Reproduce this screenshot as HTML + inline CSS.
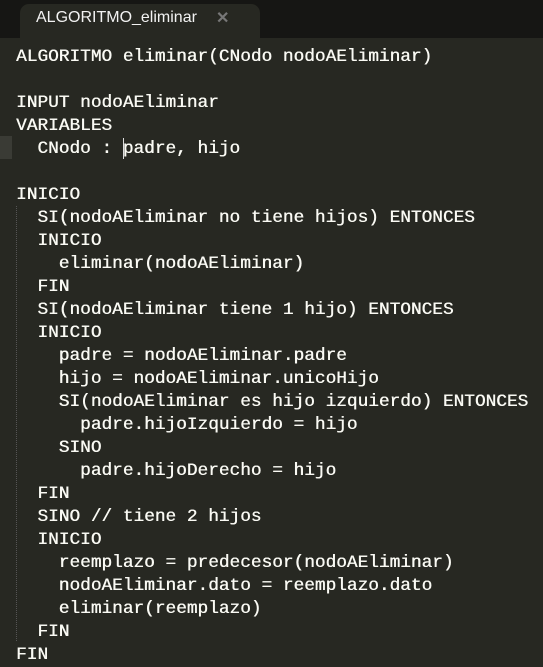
<!DOCTYPE html>
<html><head><meta charset="utf-8"><style>
html,body{margin:0;padding:0;width:543px;height:667px;overflow:hidden;background:#272822;}
.bar{position:absolute;left:0;top:0;width:543px;height:38px;background:#161614;}
.tab{position:absolute;left:20px;top:4px;width:240px;height:34px;background:#272822;border-radius:9px 9px 0 0;}
.tabt{position:absolute;left:36px;top:9px;font:16px "Liberation Sans",sans-serif;color:#f2f2f2;}
.x{position:absolute;left:216px;top:8px;font:bold 16px "Liberation Sans",sans-serif;color:#777;}
pre{position:absolute;left:16px;top:46px;margin:0;font:17.8px/23px "Liberation Mono",monospace;color:#fafaf4;text-shadow:0.4px 0 0 #fafaf4;}
.gut{position:absolute;left:0;top:136px;width:12px;height:23px;background:#3a3b35;}
.cur{position:absolute;left:123px;top:138px;width:1px;height:21px;background:#ddd;}
.g{position:absolute;left:16px;border-left:1px dotted #555;}
</style></head><body>
<div class="bar"></div><div class="tab"></div>
<div class="tabt">ALGORITMO_eliminar</div><div class="x">✕</div>
<div class="gut"></div>
<div class="g" style="top:206px;height:435px"></div>
<pre>ALGORITMO eliminar(CNodo nodoAEliminar)

INPUT nodoAEliminar
VARIABLES
  CNodo : padre, hijo

INICIO
  SI(nodoAEliminar no tiene hijos) ENTONCES
  INICIO
    eliminar(nodoAEliminar)
  FIN
  SI(nodoAEliminar tiene 1 hijo) ENTONCES
  INICIO
    padre = nodoAEliminar.padre
    hijo = nodoAEliminar.unicoHijo
    SI(nodoAEliminar es hijo izquierdo) ENTONCES
      padre.hijoIzquierdo = hijo
    SINO
      padre.hijoDerecho = hijo
  FIN
  SINO // tiene 2 hijos
  INICIO
    reemplazo = predecesor(nodoAEliminar)
    nodoAEliminar.dato = reemplazo.dato
    eliminar(reemplazo)
  FIN
FIN</pre>
<div class="cur"></div>
</body></html>
